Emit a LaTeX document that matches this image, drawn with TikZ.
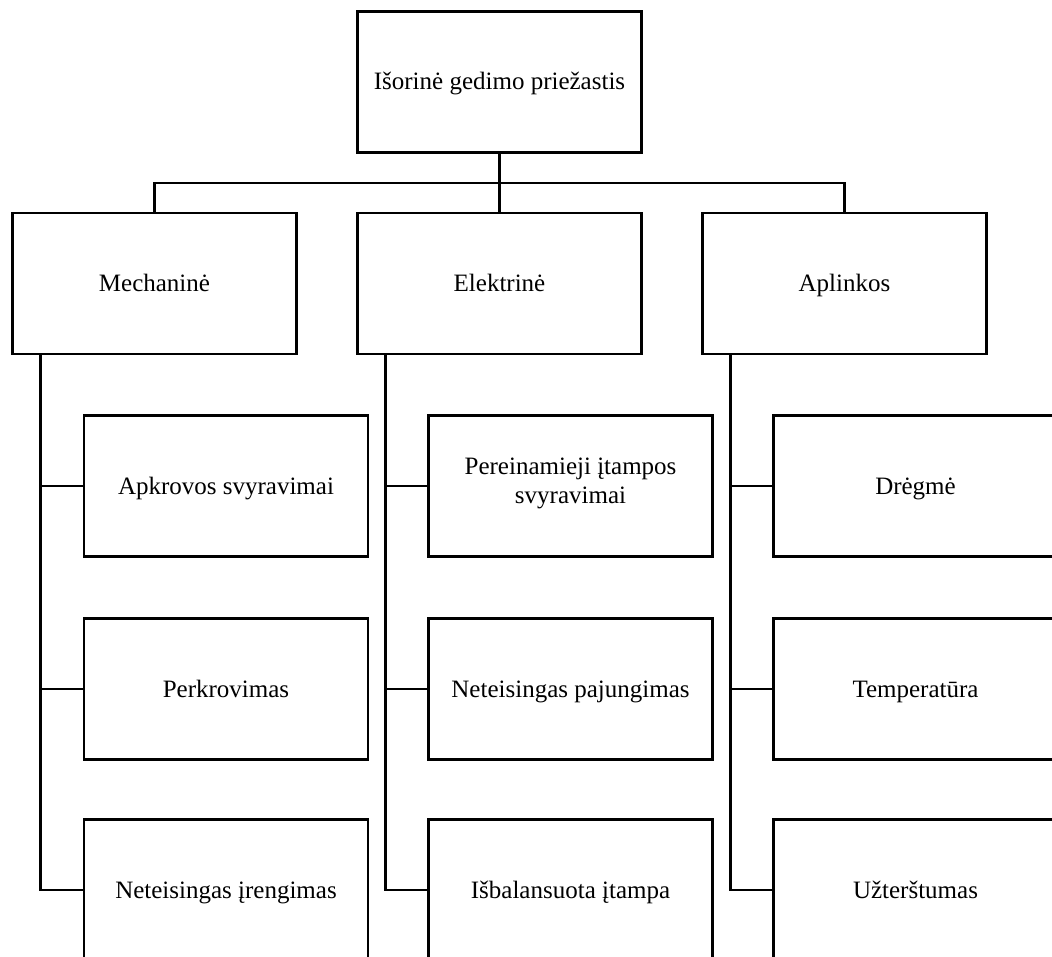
\documentclass[tikz,border=0pt]{standalone}
\usepackage{fontspec}
\setmainfont{Liberation Serif}
\usetikzlibrary{positioning}

\tikzset{box/.style={draw=black, line width=2.2pt, minimum width=284pt, minimum height=141pt, align=center, font=\fontsize{25}{29}\selectfont, execute at begin node={\rule[-10pt]{0pt}{36pt}}}}

\begin{document}
\begin{tikzpicture}[x=1pt, y=-1pt, line width=2.2pt]
	\useasboundingbox (0,0) rectangle (1052,957);

	% top
	\node[box] (root) at (499.5,82) {Išorinė gedimo priežastis};

	% groups
	\node[box] (mech) at (154.5,283.5) {Mechaninė};
	\node[box] (elek) at (499.5,283.5) {Elektrinė};
	\node[box] (apl)  at (844.5,283.5) {Aplinkos};

	% causes
	\node[box] (mech1) at (226,486) {Apkrovos svyravimai};
	\node[box] (mech2) at (226,689) {Perkrovimas};
	\node[box] (mech3) at (226,890) {Neteisingas įrengimas};

	\node[box] (elek1) at (570.5,486) {Pereinamieji įtampos\\svyravimai};
	\node[box] (elek2) at (570.5,689) {Neteisingas pajungimas};
	\node[box] (elek3) at (570.5,890) {Išbalansuota įtampa};

	\node[box] (apl1) at (915.5,486) {Drėgmė};
	\node[box] (apl2) at (915.5,689) {Temperatūra};
	\node[box] (apl3) at (915.5,890) {Užterštumas};

	% bus
	\coordinate (bus) at (0,183);
	\draw (root.south) -- (elek.north);
	\draw (mech.north) -- (mech.north |- bus) -- (apl.north |- bus) -- (apl.north);

	% trunks
	\foreach \p in {mech,elek,apl} {
		\draw ([xshift=29pt]\p.south west) coordinate (\p t) |- (\p3.west);
		\draw (\p t |- \p1.west) -- (\p1.west);
		\draw (\p t |- \p2.west) -- (\p2.west);
	}
\end{tikzpicture}
\end{document}
